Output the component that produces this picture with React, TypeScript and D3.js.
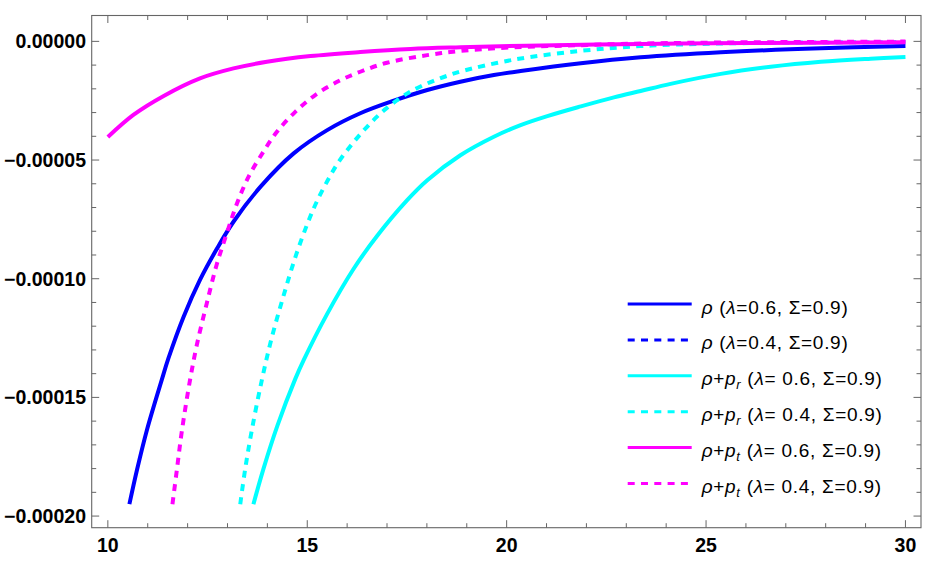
import React from "react";
import * as d3 from "d3";

// values in units of 1e-5
const UNIT = 1e-5;

const rhoL06: [number, number][] = [
  [10.54, -19.5], [10.73, -18.06], [10.98, -16.37], [11.35, -14.27], [11.52, -13.35],
  [11.9, -11.6], [12.31, -10.05], [12.73, -8.75], [13.15, -7.6], [13.83, -6.12],
  [14.66, -4.72], [15.5, -3.74], [16.33, -3.03], [17.17, -2.5], [18.01, -2.05],
  [18.84, -1.7], [19.68, -1.42], [20.35, -1.25], [21.86, -0.92], [23.36, -0.67],
  [25.37, -0.46], [27.88, -0.29], [30, -0.2],
];
// hidden beneath the other curves in the reference
const rhoL04: [number, number][] = [];
const prL06: [number, number][] = [
  [13.65, -19.5], [13.9, -18.02], [14.25, -16.2], [14.7, -14.22], [14.91, -13.43],
  [15.5, -11.48], [16.16, -9.59], [16.75, -8.2], [17.5, -6.7], [18.01, -5.85],
  [18.84, -4.8], [19.68, -4.02], [20.35, -3.53], [21.02, -3.15], [21.86, -2.74],
  [22.69, -2.36], [23.36, -2.09], [24.11, -1.79], [25.37, -1.37], [26.62, -1.07],
  [27.88, -0.86], [29.13, -0.73], [30, -0.66],
];
const prL04: [number, number][] = [
  [13.32, -19.5], [13.44, -18.06], [13.61, -16.38], [13.86, -14.28], [14.1, -12.55],
  [14.4, -10.75], [14.7, -9.1], [15.0, -7.7], [15.24, -6.75], [15.58, -5.65],
  [15.83, -4.97], [16.08, -4.42], [16.29, -3.99], [16.5, -3.6], [16.75, -3.17],
  [17.0, -2.8], [17.5, -2.2], [17.84, -1.9], [18.17, -1.66], [18.51, -1.45],
  [18.84, -1.27], [20.18, -0.77], [21.86, -0.4], [23.36, -0.2], [25.37, -0.09],
  [30, -0.03],
];
const ptL06: [number, number][] = [
  [10, -4.03], [10.64, -3.1], [11.4, -2.3], [12.31, -1.56], [13.15, -1.14],
  [13.99, -0.86], [15.08, -0.62], [16.33, -0.45], [17.59, -0.32], [18.84, -0.25],
  [20.5, -0.18], [23.36, -0.11], [26, -0.07], [30, -0.04],
];
const ptL04: [number, number][] = [
  [11.62, -19.5], [11.73, -18.06], [11.86, -16.37], [12.06, -14.27], [12.23, -12.8],
  [12.48, -11.04], [12.73, -9.4], [12.99, -8.05], [13.24, -6.82], [13.53, -5.7],
  [13.9, -4.65], [14.24, -3.81], [14.7, -2.97], [15.2, -2.26], [15.79, -1.67],
  [16.33, -1.28], [17.0, -0.9], [18.01, -0.58], [18.84, -0.4], [20.18, -0.25],
  [21.86, -0.16], [23.36, -0.09], [26, -0.04], [30, -0.01],
];

const xTicks = [10, 15, 20, 25, 30];
const xTickLabels = ["10", "15", "20", "25", "30"];
const yTicks = [0, -5, -10, -15, -20];
const yTickLabels = ["0.00000", "\u22120.00005", "\u22120.00010", "\u22120.00015", "\u22120.00020"];

const seriesColors = ["#0000FF", "#0000FF", "#00FFFF", "#00FFFF", "#FF00FF", "#FF00FF"];
const seriesDashed = [false, true, false, true, false, true];
const seriesLambda = ["0.6", "0.4", " 0.6", " 0.4", " 0.6", " 0.4"];
const seriesSub = ["", "", "r", "r", "t", "t"];
const seriesData = [rhoL06, rhoL04, prL06, prL04, ptL06, ptL04];

const W = 932;
const H = 563;
const frame = { left: 91.7, right: 921, top: 15.5, bottom: 527.7 };

export default function App() {
  const x = d3.scaleLinear().domain([9.595, 30.39]).range([frame.left, frame.right]);
  const y = d3.scaleLinear().domain([-20.49, 1.09]).range([frame.bottom, frame.top]);
  const line = d3
    .line<[number, number]>()
    .x((d) => x(d[0]))
    .y((d) => y(d[1]))
    .curve(d3.curveCatmullRom.alpha(0.5));

  const xMinor = d3.range(10, 31, 1).filter((v) => v % 5 !== 0);
  const yMinor = d3.range(-20, 1, 1).filter((v) => v % 5 !== 0);
  const frameColor = "#666666";
  const major = 7.5;
  const minor = 4.5;
  const font = "'Liberation Sans', Arial, sans-serif";

  const legendX0 = 627.7;
  const legendX1 = 691.7;
  const legendY0 = 304;
  const legendStep = 35.9;

  return (
    <div style={{ position: "absolute", left: 0, top: 0 }}>
      <svg width={W} height={H} style={{ display: "block", background: "#fff" }}>
        <defs>
          <clipPath id="plotclip">
            <rect x={frame.left} y={frame.top} width={frame.right - frame.left} height={frame.bottom - frame.top} />
          </clipPath>
        </defs>
        <rect x={0} y={0} width={W} height={H} fill="#fff" />
        {/* curves */}
        <g clipPath="url(#plotclip)">
          {seriesData.map((d, i) =>
            d.length ? (
              <path
                key={i}
                d={line(d) || ""}
                fill="none"
                stroke={seriesColors[i]}
                strokeWidth={4}
                strokeDasharray={seriesDashed[i] ? "7,6.3" : undefined}
                strokeLinejoin="round"
              />
            ) : null
          )}
        </g>
        {/* frame */}
        <rect
          x={frame.left}
          y={frame.top}
          width={frame.right - frame.left}
          height={frame.bottom - frame.top}
          fill="none"
          stroke={frameColor}
          strokeWidth={1.1}
        />
        {/* ticks */}
        {xTicks.map((t) => (
          <g key={"xt" + t}>
            <line x1={x(t)} x2={x(t)} y1={frame.bottom} y2={frame.bottom - major} stroke={frameColor} strokeWidth={1} />
            <line x1={x(t)} x2={x(t)} y1={frame.top} y2={frame.top + major} stroke={frameColor} strokeWidth={1} />
          </g>
        ))}
        {xMinor.map((t) => (
          <g key={"xm" + t}>
            <line x1={x(t)} x2={x(t)} y1={frame.bottom} y2={frame.bottom - minor} stroke={frameColor} strokeWidth={1} />
            <line x1={x(t)} x2={x(t)} y1={frame.top} y2={frame.top + minor} stroke={frameColor} strokeWidth={1} />
          </g>
        ))}
        {yTicks.map((t) => (
          <g key={"yt" + t}>
            <line x1={frame.left} x2={frame.left + major} y1={y(t)} y2={y(t)} stroke={frameColor} strokeWidth={1} />
            <line x1={frame.right} x2={frame.right - major} y1={y(t)} y2={y(t)} stroke={frameColor} strokeWidth={1} />
          </g>
        ))}
        {yMinor.map((t) => (
          <g key={"ym" + t}>
            <line x1={frame.left} x2={frame.left + minor} y1={y(t)} y2={y(t)} stroke={frameColor} strokeWidth={1} />
            <line x1={frame.right} x2={frame.right - minor} y1={y(t)} y2={y(t)} stroke={frameColor} strokeWidth={1} />
          </g>
        ))}
        {/* tick labels */}
        {xTicks.map((t, i) => (
          <text
            key={"xl" + t}
            x={x(t)}
            y={552}
            textAnchor="middle"
            fontFamily={font}
            fontWeight="bold"
            fontSize={19.5}
            fill="#000"
          >
            {xTickLabels[i]}
          </text>
        ))}
        {yTicks.map((t, i) => (
          <text
            key={"yl" + t}
            x={86}
            y={y(t) + 7}
            textAnchor="end"
            fontFamily={font}
            fontWeight="bold"
            fontSize={19.5}
            fill="#000"
          >
            {yTickLabels[i]}
          </text>
        ))}
        {/* legend */}
        {seriesColors.map((c, i) => {
          const ly = legendY0 + i * legendStep;
          const sub = seriesSub[i];
          return (
            <g key={"lg" + i}>
              <line
                x1={legendX0}
                x2={legendX1}
                y1={ly}
                y2={ly}
                stroke={c}
                strokeWidth={3}
                strokeDasharray={seriesDashed[i] ? "7,6.3" : undefined}
              />
              <text x={701.7} y={ly + 9.5} fontFamily={font} fontSize={19} fill="#000" letterSpacing={0.7}>
                <tspan fontStyle="italic">ρ</tspan>
                {sub ? (
                  <>
                    <tspan>+</tspan>
                    <tspan fontStyle="italic">p</tspan>
                    <tspan fontStyle="italic" fontSize={13} dy={4}>
                      {sub}
                    </tspan>
                    <tspan dy={-4}>{" ("}</tspan>
                  </>
                ) : (
                  <tspan>{" ("}</tspan>
                )}
                <tspan fontStyle="italic">λ</tspan>
                <tspan>{"=" + seriesLambda[i] + ", Σ=0.9)"}</tspan>
              </text>
            </g>
          );
        })}
      </svg>
    </div>
  );
}
